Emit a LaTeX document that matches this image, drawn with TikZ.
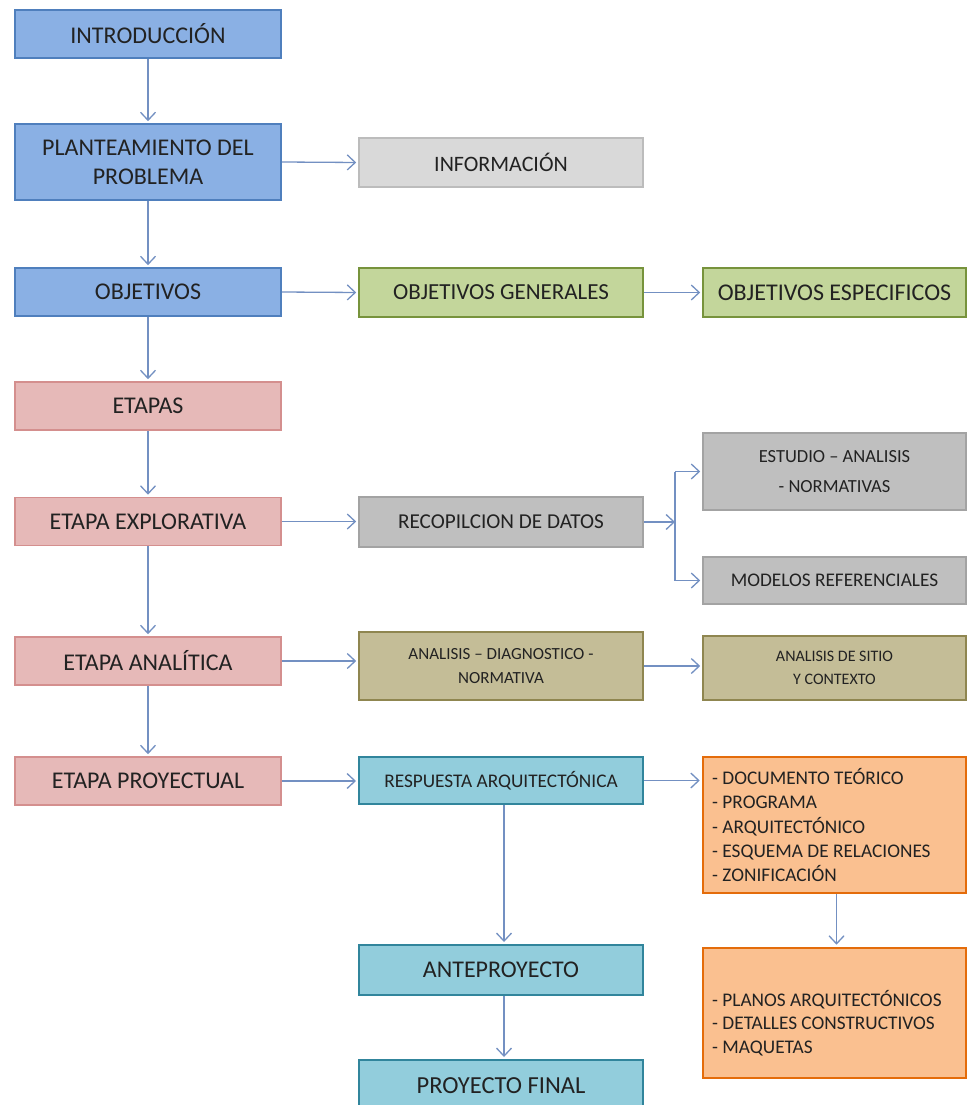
\documentclass[tikz,border=0pt]{standalone}
\usepackage{fontspec}
\setmainfont{Carlito}
\usetikzlibrary{arrows.meta,calc}
\definecolor{bluef}{HTML}{8AB0E4}
\definecolor{blued}{HTML}{4F7FBD}
\definecolor{grayf}{HTML}{D9D9D9}
\definecolor{grayd}{HTML}{BCBCBC}
\definecolor{greenf}{HTML}{C3D69B}
\definecolor{greend}{HTML}{77933C}
\definecolor{pinkf}{HTML}{E6B9B8}
\definecolor{pinkd}{HTML}{D48F8E}
\definecolor{dgrayf}{HTML}{BFBFBF}
\definecolor{dgrayd}{HTML}{A3A3A3}
\definecolor{tanf}{HTML}{C4BD97}
\definecolor{tand}{HTML}{8F8650}
\definecolor{tealf}{HTML}{92CDDC}
\definecolor{teald}{HTML}{31859C}
\definecolor{orangef}{HTML}{FAC090}
\definecolor{oranged}{HTML}{E46C0A}
\definecolor{arrc}{HTML}{7390C2}
\definecolor{txt}{HTML}{222222}
\tikzset{
  box/.style={rectangle, line width=1.6pt, align=center, text=txt, inner sep=2pt},
  leftbox/.style={box, minimum width=266pt},
  midbox/.style={box, minimum width=284pt},
  rightbox/.style={box, minimum width=263pt},
  bluebox/.style={leftbox, fill=bluef, draw=blued, minimum height=48pt, font=\fontsize{24}{29}\selectfont},
  pinkbox/.style={leftbox, fill=pinkf, draw=pinkd, minimum height=48pt, font=\fontsize{24}{29}\selectfont},
  infobox/.style={midbox, fill=grayf, draw=grayd, minimum height=49pt, font=\fontsize{22}{28}\selectfont},
  greenbox/.style={fill=greenf, draw=greend, minimum height=49pt},
  graybox/.style={fill=dgrayf, draw=dgrayd},
  tanbox/.style={fill=tanf, draw=tand},
  tealbox/.style={midbox, fill=tealf, draw=teald, line width=2pt},
  orangebox/.style={rightbox, fill=orangef, draw=oranged, line width=2.6pt},
  arr/.style={draw=arrc, line width=1.3pt, -{Straight Barb[length=8pt,width=15pt,line width=1.3pt]}, shorten >=2pt},
  ln/.style={draw=arrc, line width=1.3pt}
}
\begin{document}
\begin{tikzpicture}[x=1pt,y=-1pt]
\clip (0,0) rectangle (967,1105);
\fill[white] (0,0) rectangle (967,1105);
% left column
\node[bluebox] (intro) at (148,34) {INTRODUCCIÓN};
\node[bluebox, minimum height=76pt] (plant) at (148,162) {PLANTEAMIENTO DEL\\PROBLEMA};
\node[bluebox] (obj) at (148,292) {OBJETIVOS};
\node[pinkbox] (etapas) at (148,406) {ETAPAS};
\node[pinkbox] (explo) at (148,521.5) {ETAPA EXPLORATIVA};
\node[pinkbox] (analit) at (148,661) {ETAPA ANALÍTICA};
\node[pinkbox] (proyec) at (148,781) {ETAPA PROYECTUAL};
% middle column
\node[infobox] (info) at (501,162.5) {INFORMACIÓN};
\node[midbox, greenbox, font=\fontsize{23}{28}\selectfont] (objgen) at (501,292.5) {OBJETIVOS GENERALES};
\node[midbox, graybox, minimum height=50pt, font=\fontsize{21.2}{28}\selectfont] (recop) at (501,522) {RECOPILCION DE DATOS};
\node[midbox, tanbox, minimum height=68pt, font=\fontsize{17}{24.5}\selectfont] (diag) at (501,666) {ANALISIS -- DIAGNOSTICO -\\NORMATIVA};
\node[tealbox, minimum height=47pt, font=\fontsize{19.3}{24}\selectfont] (resp) at (501,780.5) {RESPUESTA ARQUITECTÓNICA};
\node[tealbox, minimum height=50pt, font=\fontsize{24}{29}\selectfont] (antep) at (501,970) {ANTEPROYECTO};
\node[tealbox, minimum height=52pt, font=\fontsize{24.5}{29}\selectfont] (final) at (501,1086) {PROYECTO FINAL};
% right column
\node[rightbox, greenbox, font=\fontsize{24}{29}\selectfont] (objesp) at (834.5,292.5) {OBJETIVOS ESPECIFICOS};
\node[rightbox, graybox, minimum height=77pt, font=\fontsize{18.5}{30}\selectfont] (estudio) at (834.5,471.5) {ESTUDIO -- ANALISIS\\- NORMATIVAS};
\node[rightbox, graybox, minimum height=47pt, font=\fontsize{19.3}{24}\selectfont] (modelos) at (834.5,580.5) {MODELOS REFERENCIALES};
\node[rightbox, tanbox, minimum height=64pt, font=\fontsize{16}{23}\selectfont] (sitio) at (834.5,668) {ANALISIS DE SITIO\\Y CONTEXTO};
\node[orangebox, minimum height=136pt] (or1) at (834.5,825) {};
\node[anchor=west, align=left, text=txt, inner sep=0pt, font=\fontsize{19.3}{24.3}\selectfont] (or1t) at (712,825) {- DOCUMENTO TEÓRICO\\- PROGRAMA\\- ARQUITECTÓNICO\\- ESQUEMA DE RELACIONES\\- ZONIFICACIÓN};
\node[orangebox, minimum height=130pt] (or2) at (834.5,1013) {};
\node[anchor=west, align=left, text=txt, inner sep=0pt, font=\fontsize{19.3}{23.5}\selectfont] (or2t) at (712,1023) {- PLANOS ARQUITECTÓNICOS\\- DETALLES CONSTRUCTIVOS\\- MAQUETAS};
% vertical arrows
\draw[arr] (intro) -- (plant);
\draw[arr] (plant) -- (obj);
\draw[arr] (obj) -- (etapas);
\draw[arr] (etapas) -- (explo);
\draw[arr] (explo) -- (analit);
\draw[arr] (analit) -- (proyec);
\draw[arr] ($(resp.south)+(3,0)$) -- ($(antep.north)+(3,0)$);
\draw[arr] ($(antep.south)+(3,0)$) -- ($(final.north)+(3,0)$);
\draw[arr] ($(or1.south)+(2,0)$) -- ($(or2.north)+(2,0)$);
% horizontal arrows
\draw[arr] (plant.east) -- (info.west);
\draw[arr] (obj.east) -- (objgen.west);
\draw[arr] (objgen.east) -- (objesp.west);
\draw[arr] (explo.east) -- (explo.east -| recop.west);
\draw[arr] (analit.east) -- (analit.east -| diag.west);
\draw[arr] (diag.east) -- (diag.east -| sitio.west);
\draw[arr] (proyec.east) -- (proyec.east -| resp.west);
\draw[arr] (resp.east) -- (resp.east -| or1.west);
% branch
\coordinate (br) at (675,522);
\coordinate (bt) at (675,471.5);
\coordinate (bb) at (675,580.5);
\draw[arr, shorten >=0pt] (recop.east) -- (br);
\draw[ln] (bt) -- (bb);
\draw[arr] (bt) -- (estudio.west);
\draw[arr] (bb) -- (modelos.west);
\end{tikzpicture}
\end{document}
